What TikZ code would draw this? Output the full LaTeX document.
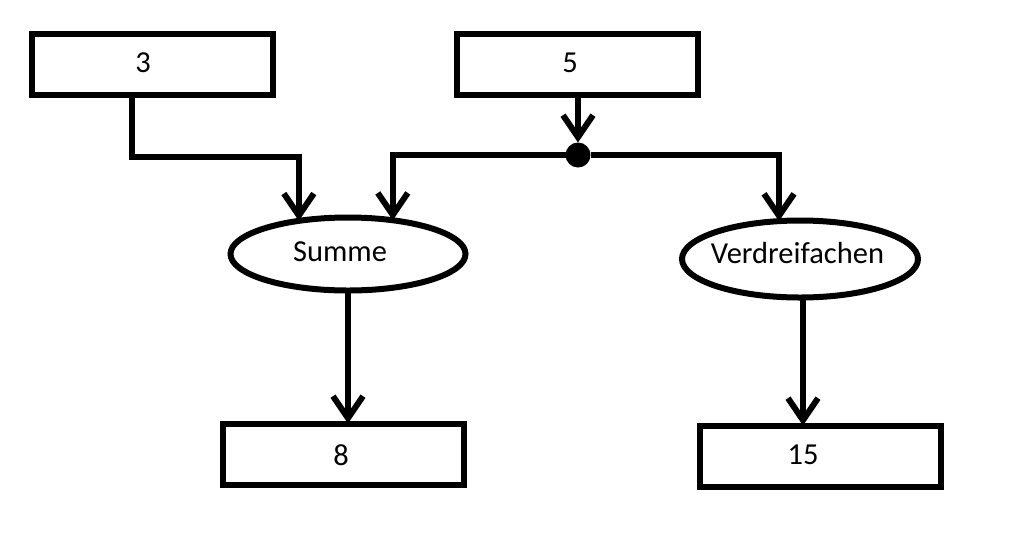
\documentclass[tikz,border=0pt]{standalone}
\usepackage{fontspec}
\setmainfont{Carlito}
\usetikzlibrary{shapes.geometric,arrows.meta}
\begin{document}
\begin{tikzpicture}[x=1pt,y=-1pt,
  every node/.style={line width=6pt, outer sep=0pt, inner sep=0pt},
  txt/.style={font=\fontsize{30.5}{36}\selectfont, anchor=center},
  databox/.style={draw, rectangle, minimum width=241pt, minimum height=61pt},
  procbox/.style={draw, ellipse},
  conn/.style={line width=6pt, -{Straight Barb[length=22pt,width=30pt,line width=6pt]}}]
\useasboundingbox (0,0) rectangle (1009,547);
\node[databox] (b3) at (152,64) {};
\node[databox] (b5) at (577,64) {};
\node[databox] (b8) at (343,454) {};
\node[databox] (b15) at (820,456) {};
\node[procbox, minimum width=235pt, minimum height=73pt] (sum) at (348,254) {};
\node[procbox, minimum width=236pt, minimum height=77pt] (ver) at (800,259) {};
\node[txt] (t3) at (143,63) {3};
\node[txt] (t5) at (570,63) {5};
\node[txt] (t8) at (341,455) {8};
\node[txt] (t15) at (803,455) {15};
\node[txt] (tsum) at (340,252) {Summe};
\node[txt] (tver) at (797.5,253) {Verdreifachen};
\node[circle, fill, minimum size=25pt, inner sep=0pt, line width=0pt] (dot) at (578,155) {};
\draw[conn] ([xshift=-20pt]b3.south) -- ++(0,62.5) -| (sum.146.6);
\draw[conn] (b5.south -| dot) -- (dot.north);
\draw[conn] (dot) -| (sum.37.5);
\draw[conn] (dot) -| (ver.119);
\draw[conn] (sum.south) -- (sum.south |- b8.north);
\draw[conn] ([xshift=3pt]ver.south) -- ([xshift=3pt]ver.south |- b15.north);
\end{tikzpicture}
\end{document}
